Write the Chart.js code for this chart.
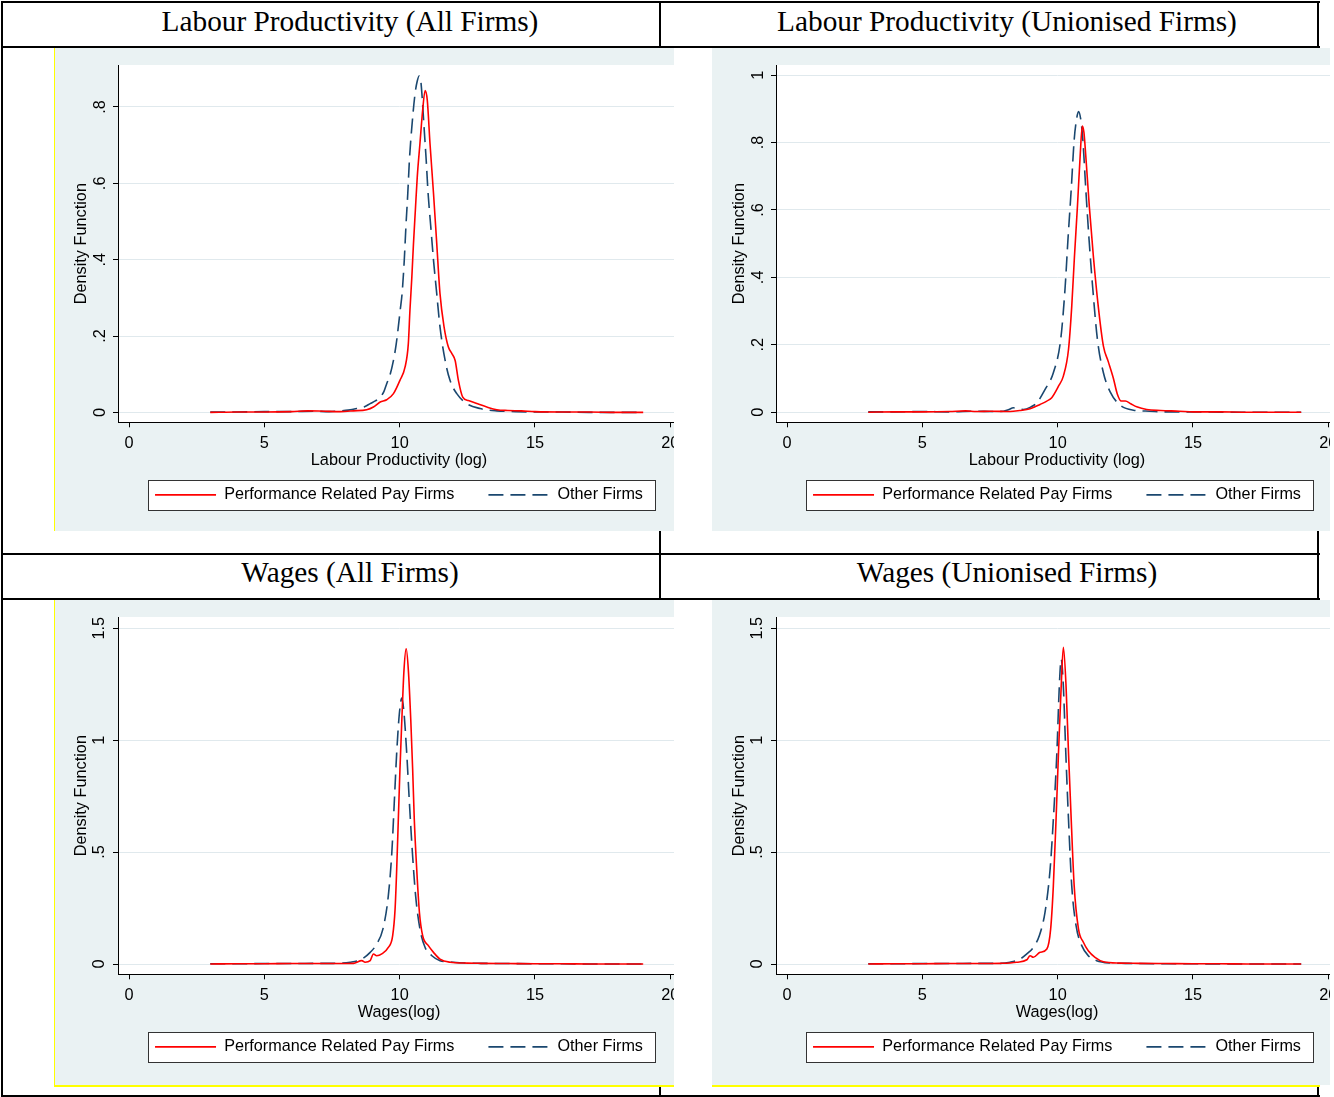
<!DOCTYPE html>
<html>
<head>
<meta charset="utf-8">
<script src="https://cdn.jsdelivr.net/npm/chart.js@4.4.1/dist/chart.umd.min.js"></script>
<style>
  body { margin: 0; background: #fff; width: 1334px; height: 1097px; position: relative; overflow: hidden; }
  .rule { position: absolute; background: #000; }
  .yellow { position: absolute; background: #ffff00; z-index: 3; }
  .title { position: absolute; width: 700px; text-align: center; white-space: nowrap;
           font-family: 'Liberation Serif', 'Times New Roman', serif; font-size: 29.3px; color: #000; }
  .panel { position: absolute; overflow: hidden; background: #eaf2f3; z-index: 2; }
  .panel canvas { position: absolute; left: 0; top: 0; }
</style>
</head>
<body>

<!-- table rules -->
<div class="rule" style="left:1px;top:1px;width:1319px;height:2px"></div>
<div class="rule" style="left:1px;top:1px;width:2px;height:1096px"></div>
<div class="rule" style="left:1px;top:46px;width:1319px;height:2px"></div>
<div class="rule" style="left:659px;top:1px;width:2px;height:1096px"></div>
<div class="rule" style="left:1317px;top:1px;width:2px;height:1096px"></div>
<div class="rule" style="left:1px;top:553px;width:1319px;height:2px"></div>
<div class="rule" style="left:1px;top:598px;width:1319px;height:2px"></div>
<div class="rule" style="left:1px;top:1095px;width:1319px;height:2px"></div>

<div class="title" style="left:0;top:1px;line-height:40px">Labour Productivity (All Firms)</div>
<div class="title" style="left:657px;top:1px;line-height:40px">Labour Productivity (Unionised Firms)</div>
<div class="title" style="left:0;top:552px;line-height:40px">Wages (All Firms)</div>
<div class="title" style="left:657px;top:552px;line-height:40px">Wages (Unionised Firms)</div>

<div class="panel" style="left:54px;top:48px;width:620px;height:483px"><canvas id="lpAllChart" width="700" height="483"></canvas></div>
<div class="panel" style="left:712px;top:48px;width:618px;height:483px"><canvas id="lpUnionChart" width="700" height="483"></canvas></div>
<div class="panel" style="left:54px;top:600px;width:620px;height:485px"><canvas id="wAllChart" width="700" height="483"></canvas></div>
<div class="panel" style="left:712px;top:600px;width:618px;height:485px"><canvas id="wUnionChart" width="700" height="483"></canvas></div>

<div class="yellow" style="left:54px;top:48px;width:1px;height:483px"></div>
<div class="yellow" style="left:54px;top:600px;width:1px;height:487px"></div>
<div class="yellow" style="left:54px;top:1085px;width:620px;height:2px"></div>
<div class="yellow" style="left:712px;top:1085px;width:608px;height:2px"></div>

<script>
'use strict';

// ---- data ----
const seriesNames = ['Performance Related Pay Firms', 'Other Firms'];
const xTickValues = [0, 5, 10, 15, 20];

const lpYTicks = [0, 0.2, 0.4, 0.6, 0.8];
const lpYLabels = ['0', '.2', '.4', '.6', '.8'];
const lpUnionYTicks = [0, 0.2, 0.4, 0.6, 0.8, 1];
const lpUnionYLabels = ['0', '.2', '.4', '.6', '.8', '1'];
const wageYTicks = [0, 0.5, 1, 1.5];
const wageYLabels = ['0', '.5', '1', '1.5'];

// Labour productivity, all firms
const lpAllPrpX = [3, 4, 5, 6, 6.6, 7.2, 7.8, 8.29, 8.78, 9.03, 9.28, 9.52, 9.77, 10.01, 10.2, 10.32, 10.38, 10.45, 10.51, 10.58, 10.65, 10.75, 10.85, 10.94, 11.02, 11.12, 11.25, 11.37, 11.49, 11.64, 11.8, 11.93, 12.05, 12.17, 12.33, 12.54, 12.85, 13.22, 13.59, 14, 14.5, 15, 16, 17, 18, 19];
const lpAllPrpY = [0, 0.001, 0.001, 0.002, 0.004, 0.003, 0.002, 0.004, 0.007, 0.014, 0.027, 0.033, 0.049, 0.084, 0.119, 0.18, 0.268, 0.355, 0.442, 0.53, 0.617, 0.705, 0.792, 0.843, 0.818, 0.705, 0.574, 0.442, 0.311, 0.224, 0.171, 0.154, 0.136, 0.084, 0.04, 0.031, 0.023, 0.014, 0.007, 0.005, 0.004, 0.002, 0.001, 0.001, 0, 0];
const lpAllOthX = [3, 4, 5, 6, 6.8, 7.4, 7.8, 8.1, 8.41, 8.7, 8.91, 9.1, 9.28, 9.42, 9.52, 9.65, 9.77, 9.87, 9.95, 10.02, 10.09, 10.17, 10.23, 10.3, 10.36, 10.45, 10.57, 10.65, 10.72, 10.78, 10.82, 10.9, 10.98, 11.05, 11.15, 11.25, 11.37, 11.49, 11.68, 11.86, 12.11, 12.48, 12.97, 13.59, 14.3, 15, 16, 17, 18, 19];
const lpAllOthY = [0.001, 0.001, 0.002, 0.002, 0.003, 0.002, 0.004, 0.006, 0.01, 0.015, 0.023, 0.03, 0.04, 0.055, 0.075, 0.1, 0.136, 0.178, 0.224, 0.268, 0.312, 0.399, 0.486, 0.574, 0.661, 0.748, 0.836, 0.868, 0.881, 0.868, 0.836, 0.748, 0.661, 0.574, 0.486, 0.399, 0.311, 0.224, 0.136, 0.084, 0.049, 0.023, 0.01, 0.004, 0.002, 0.001, 0.001, 0, 0, 0];

// Labour productivity, unionised firms
const lpUnionPrpX = [3, 4, 5, 6, 6.6, 7, 7.5, 8.24, 8.6, 8.98, 9.35, 9.6, 9.78, 10.03, 10.21, 10.4, 10.52, 10.62, 10.73, 10.83, 10.91, 10.97, 11.04, 11.17, 11.32, 11.5, 11.69, 11.87, 12.06, 12.2, 12.35, 12.5, 12.7, 12.92, 13.29, 13.8, 14.5, 15, 16, 17, 18, 19];
const lpUnionPrpY = [0, 0.001, 0.001, 0.002, 0.004, 0.002, 0.003, 0.002, 0.005, 0.01, 0.023, 0.033, 0.043, 0.077, 0.107, 0.186, 0.314, 0.462, 0.61, 0.759, 0.849, 0.83, 0.759, 0.61, 0.462, 0.314, 0.196, 0.15, 0.1, 0.055, 0.033, 0.033, 0.025, 0.016, 0.008, 0.005, 0.003, 0.001, 0.001, 0, 0, 0];
const lpUnionOthX = [3, 4, 5, 6, 7, 7.6, 7.99, 8.2, 8.36, 8.55, 8.73, 9, 9.23, 9.53, 9.84, 10.11, 10.27, 10.38, 10.5, 10.61, 10.7, 10.77, 10.85, 10.93, 11.04, 11.16, 11.3, 11.47, 11.69, 11.94, 12.31, 12.8, 13.4, 14, 15, 16, 17, 18, 19];
const lpUnionOthY = [0.001, 0.001, 0.002, 0.001, 0.003, 0.002, 0.003, 0.008, 0.013, 0.01, 0.008, 0.015, 0.028, 0.067, 0.117, 0.215, 0.364, 0.512, 0.66, 0.808, 0.87, 0.892, 0.87, 0.808, 0.66, 0.512, 0.364, 0.215, 0.117, 0.06, 0.021, 0.006, 0.003, 0.001, 0.001, 0, 0, 0, 0];

// Wages, all firms
const wAllPrpX = [3, 4, 5, 6, 7, 7.8, 8.29, 8.6, 8.72, 8.91, 9.03, 9.15, 9.34, 9.58, 9.74, 9.83, 9.89, 9.95, 10.01, 10.08, 10.16, 10.24, 10.32, 10.41, 10.48, 10.54, 10.63, 10.73, 10.85, 11.06, 11.25, 11.49, 11.86, 12.5, 13, 14, 15, 16, 17, 18, 19];
const wAllPrpY = [0, 0.001, 0.001, 0.002, 0.002, 0.002, 0.003, 0.015, 0.008, 0.015, 0.045, 0.037, 0.045, 0.074, 0.126, 0.245, 0.423, 0.646, 0.869, 1.091, 1.314, 1.408, 1.314, 1.091, 0.869, 0.646, 0.423, 0.23, 0.126, 0.082, 0.052, 0.022, 0.008, 0.004, 0.003, 0.002, 0.001, 0.001, 0, 0, 0];
const wAllOthX = [3, 4, 5, 6, 7, 7.55, 8.17, 8.6, 8.91, 9.15, 9.38, 9.58, 9.71, 9.8, 9.89, 9.99, 10.08, 10.16, 10.26, 10.36, 10.47, 10.59, 10.75, 10.94, 11.19, 11.49, 11.98, 12.5, 13, 14, 15, 16, 17, 18, 19];
const wAllOthY = [0.001, 0.001, 0.002, 0.002, 0.003, 0.003, 0.008, 0.022, 0.052, 0.089, 0.156, 0.304, 0.498, 0.72, 0.943, 1.121, 1.188, 1.121, 0.943, 0.72, 0.498, 0.304, 0.156, 0.074, 0.037, 0.015, 0.008, 0.004, 0.003, 0.002, 0.001, 0.001, 0, 0, 0];

// Wages, unionised firms
const wUnionPrpX = [3, 4, 5, 6, 7, 7.87, 8.49, 8.86, 8.98, 9.1, 9.35, 9.6, 9.74, 9.84, 9.94, 10.03, 10.13, 10.21, 10.31, 10.4, 10.5, 10.61, 10.77, 10.95, 11.13, 11.38, 11.69, 12.3, 13, 14, 15, 16, 17, 18, 19];
const wUnionPrpY = [0, 0.001, 0.001, 0.002, 0.002, 0.003, 0.008, 0.019, 0.037, 0.03, 0.052, 0.067, 0.156, 0.349, 0.646, 0.943, 1.24, 1.415, 1.24, 0.943, 0.646, 0.349, 0.156, 0.097, 0.059, 0.03, 0.01, 0.004, 0.003, 0.002, 0.001, 0.001, 0, 0, 0];
const wUnionOthX = [3, 4, 5, 6, 7, 7.87, 8.24, 8.61, 8.86, 9.1, 9.32, 9.53, 9.72, 9.84, 9.97, 10.06, 10.13, 10.21, 10.3, 10.4, 10.52, 10.68, 10.89, 11.13, 11.44, 11.9, 12.5, 13, 14, 15, 16, 17, 18, 19];
const wUnionOthY = [0.001, 0.001, 0.002, 0.002, 0.003, 0.003, 0.008, 0.022, 0.045, 0.074, 0.126, 0.23, 0.423, 0.646, 0.943, 1.24, 1.362, 1.24, 0.943, 0.646, 0.349, 0.171, 0.082, 0.037, 0.015, 0.005, 0.003, 0.002, 0.001, 0.001, 0, 0, 0, 0];

// ---- styling ----
const FONT = "'Liberation Sans', Arial, sans-serif";
const RED = '#ff0000';
const NAVY = '#1a476f';
const GRID = '#e0e9ed';

Chart.defaults.font.family = FONT;
Chart.defaults.font.size = 16.3;
Chart.defaults.color = '#000';

function toPoints(xs, ys) {
  return xs.map((x, i) => ({ x: x, y: ys[i] }));
}

// white plot region + framed legend box (Stata look)
const plotRegion = {
  id: 'plotRegion',
  beforeDraw(chart) {
    const { ctx, chartArea } = chart;
    ctx.save();
    ctx.fillStyle = '#fff';
    ctx.fillRect(chartArea.left, chartArea.top, chart.width - chartArea.left, chartArea.bottom - chartArea.top);
    const boxes = chart.legend && chart.legend.legendHitBoxes;
    if (boxes && boxes.length) {
      const first = boxes[0];
      const last = boxes[boxes.length - 1];
      const l = Math.round(first.left - 7) + 0.5;
      const r = Math.round(last.left + last.width + 12) + 0.5;
      const t = Math.round(first.top - 7) + 0.5;
      const b = Math.round(first.top + first.height + 7) + 0.5;
      ctx.fillRect(l, t, r - l, b - t);
      ctx.strokeStyle = '#333';
      ctx.lineWidth = 1;
      ctx.strokeRect(l, t, r - l, b - t);
    }
    ctx.restore();
  }
};

function initDensityChart(id, cfg) {
  const canvas = document.getElementById(id);
  if (!canvas) return null;
  const ctx = canvas.getContext('2d');

  return new Chart(ctx, {
    type: 'line',
    data: {
      datasets: [
        {
          label: seriesNames[0],
          data: toPoints(cfg.prpX, cfg.prpY),
          borderColor: RED,
          borderWidth: 1.6,
          pointRadius: 0,
          cubicInterpolationMode: 'monotone',
        },
        {
          label: seriesNames[1],
          data: toPoints(cfg.othX, cfg.othY),
          borderColor: NAVY,
          borderWidth: 1.6,
          borderDash: [15, 7],
          pointRadius: 0,
          cubicInterpolationMode: 'monotone',
        }
      ]
    },
    options: {
      responsive: false,
      animation: false,
      events: [],
      layout: { padding: { top: 17, left: 0, right: 74, bottom: 18 } },
      plugins: {
        tooltip: { enabled: false },
        legend: {
          position: 'bottom',
          fullSize: false,
          labels: {
            usePointStyle: true,
            pointStyle: 'line',
            pointStyleWidth: 61,
            padding: 34,
            color: '#000',
            font: { size: 16.2 },
            generateLabels: (chart) => chart.data.datasets.map((ds, i) => ({
              text: ds.label,
              strokeStyle: ds.borderColor,
              fillStyle: ds.borderColor,
              lineWidth: ds.borderWidth,
              lineDash: ds.borderDash || [],
              pointStyle: 'line',
              hidden: false,
              datasetIndex: i,
              fontColor: '#000'
            }))
          }
        }
      },
      scales: {
        x: {
          type: 'linear',
          min: -0.41,
          max: 20.36,
          afterBuildTicks: (s) => { s.ticks = xTickValues.map(v => ({ value: v })); },
          afterFit: (s) => { s.height = 30.5; },
          grid: { drawOnChartArea: false, tickLength: 5, tickColor: '#000' },
          border: { color: '#000', width: 1 },
          ticks: { color: '#000', padding: 6, maxRotation: 0, autoSkip: false, callback: v => String(v) },
          title: { display: true, text: cfg.xTitle, color: '#000', padding: { top: 0, bottom: -17.9 } }
        },
        y: {
          type: 'linear',
          min: cfg.yMin,
          max: cfg.yMax,
          afterBuildTicks: (s) => { s.ticks = cfg.yTicks.map(v => ({ value: v })); },
          afterFit: (s) => { s.width = 64; },
          grid: { color: GRID, lineWidth: 1, tickLength: 5, tickColor: '#000' },
          border: { color: '#000', width: 1 },
          ticks: {
            color: '#000',
            minRotation: 90,
            maxRotation: 90,
            crossAlign: 'center',
            padding: cfg.yTickPad,
            autoSkip: false,
            callback: (v, i) => cfg.yLabels[i]
          },
          title: { display: true, text: 'Density Function', color: '#000', padding: { top: 18.2, bottom: 0 } }
        }
      }
    },
    plugins: [plotRegion]
  });
}

initDensityChart('lpAllChart', {
  prpX: lpAllPrpX, prpY: lpAllPrpY, othX: lpAllOthX, othY: lpAllOthY,
  yMin: -0.026, yMax: 0.91, yTicks: lpYTicks, yLabels: lpYLabels, yTickPad: 6,
  xTitle: 'Labour Productivity (log)'
});

initDensityChart('lpUnionChart', {
  prpX: lpUnionPrpX, prpY: lpUnionPrpY, othX: lpUnionOthX, othY: lpUnionOthY,
  yMin: -0.03, yMax: 1.03, yTicks: lpUnionYTicks, yLabels: lpUnionYLabels, yTickPad: 6,
  xTitle: 'Labour Productivity (log)'
});

initDensityChart('wAllChart', {
  prpX: wAllPrpX, prpY: wAllPrpY, othX: wAllOthX, othY: wAllOthY,
  yMin: -0.046, yMax: 1.55, yTicks: wageYTicks, yLabels: wageYLabels, yTickPad: 2,
  xTitle: 'Wages(log)'
});

initDensityChart('wUnionChart', {
  prpX: wUnionPrpX, prpY: wUnionPrpY, othX: wUnionOthX, othY: wUnionOthY,
  yMin: -0.046, yMax: 1.55, yTicks: wageYTicks, yLabels: wageYLabels, yTickPad: 2,
  xTitle: 'Wages(log)'
});
</script>
</body>
</html>
